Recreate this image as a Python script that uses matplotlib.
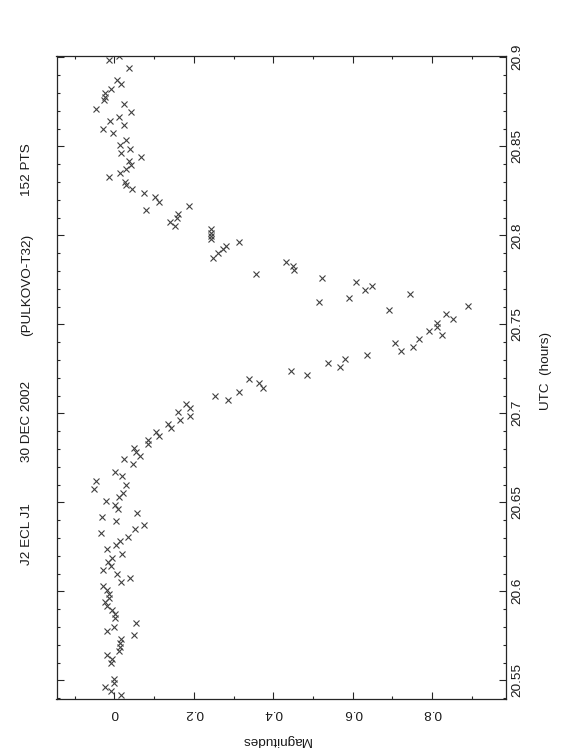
import matplotlib
matplotlib.use("Agg")
import matplotlib.pyplot as plt
from matplotlib.ticker import MultipleLocator, FixedLocator, FixedFormatter

plt.rcParams['font.family'] = ['Liberation Sans', 'DejaVu Sans']

# ---- data: UTC (hours) and magnitudes ----
utc = [20.9009, 20.8985, 20.8938, 20.8871, 20.8850, 20.8824, 20.8801, 20.8779, 20.8760, 20.8736,
       20.8711, 20.8691, 20.8666, 20.8644, 20.8621, 20.8599, 20.8576, 20.8534, 20.8507, 20.8485,
       20.8461, 20.8438, 20.8416, 20.8393, 20.8371, 20.8348, 20.8326, 20.8301, 20.8281, 20.8258,
       20.8236, 20.8213, 20.8189, 20.8166, 20.8144, 20.8121, 20.8099, 20.8076, 20.8054, 20.8034,
       20.8015, 20.7996, 20.7979, 20.7962, 20.7942, 20.7921, 20.7899, 20.7874,
       20.7850, 20.7826, 20.7805, 20.7783, 20.7760, 20.7738, 20.7713, 20.7691, 20.7669, 20.7646,
       20.7624, 20.7601, 20.7579, 20.7556, 20.7531, 20.7509, 20.7487, 20.7462, 20.7440, 20.7417,
       20.7395, 20.7372, 20.7348, 20.7326, 20.7303, 20.7281, 20.7258, 20.7236, 20.7213, 20.7191,
       20.7169, 20.7144, 20.7121, 20.7099, 20.7076,
       20.7054, 20.7031, 20.7007, 20.6985, 20.6962, 20.6940, 20.6917, 20.6895, 20.6872, 20.6850,
       20.6828, 20.6803, 20.6783, 20.6760, 20.6742,
       20.6714, 20.6669, 20.6646, 20.6621, 20.6599, 20.6576, 20.6554, 20.6531, 20.6507, 20.6485,
       20.6462, 20.6440, 20.6417, 20.6395, 20.6371, 20.6348, 20.6326, 20.6303, 20.6281, 20.6258,
       20.6236, 20.6211, 20.6189, 20.6166, 20.6144, 20.6121, 20.6099, 20.6075, 20.6052, 20.6028,
       20.6007, 20.5985, 20.5962, 20.5938, 20.5916, 20.5893, 20.5871, 20.5848, 20.5824, 20.5801,
       20.5779, 20.5756, 20.5734, 20.5711, 20.5689, 20.5666, 20.5642, 20.5620, 20.5597, 20.5506,
       20.5487, 20.5461, 20.5438, 20.5416]

mag = [0.012, -0.014, 0.037, 0.007, 0.017, -0.008, -0.023, -0.024, -0.027, 0.024,
       -0.046, 0.041, 0.012, -0.012, 0.023, -0.029, -0.003, 0.029, 0.015, 0.038,
       0.016, 0.068, 0.036, 0.042, 0.028, 0.013, -0.015, 0.026, 0.028, 0.044,
       0.075, 0.102, 0.112, 0.187, 0.080, 0.159, 0.158, 0.139, 0.153, 0.243,
       0.243, 0.243, 0.243, 0.313, 0.280, 0.273, 0.262, 0.248,
       0.431, 0.449, 0.451, 0.357, 0.523, 0.609, 0.649, 0.632, 0.744, 0.590,
       0.515, 0.891, 0.692, 0.835, 0.852, 0.813, 0.812, 0.792, 0.825, 0.766,
       0.707, 0.753, 0.722, 0.637, 0.581, 0.539, 0.569, 0.445, 0.486, 0.339,
       0.364, 0.373, 0.314, 0.254, 0.285,
       0.180, 0.190, 0.159, 0.191, 0.164, 0.134, 0.143, 0.104, 0.111, 0.085,
       0.084, 0.049, 0.055, 0.065, 0.024,
       0.047, 0.002, 0.020, -0.046, 0.029, -0.052, 0.022, 0.011, -0.022, 0.001,
       0.010, 0.058, -0.031, 0.004, 0.074, 0.051, -0.034, 0.035, 0.015, 0.004,
       -0.018, 0.020, -0.005, -0.016, -0.009, -0.030, 0.007, 0.039, 0.016, -0.028,
       -0.019, -0.015, -0.014, -0.024, -0.018, -0.006, 0.002, 0.002, 0.054, 0.000,
       -0.019, 0.049, 0.016, 0.015, 0.013, 0.012, -0.018, -0.005, -0.009, 0.000,
       -0.001, -0.023, -0.008, 0.017]

mag_ticks = [0, 0.2, 0.4, 0.6, 0.8]
mag_tick_labels = ['0', '0.2', '0.4', '0.6', '0.8']
utc_ticks = [20.55, 20.6, 20.65, 20.7, 20.75, 20.8, 20.85, 20.9]
utc_tick_labels = ['20.55', '20.6', '20.65', '20.7', '20.75', '20.8', '20.85', '20.9']
title_parts = ['J2 ECL J1', '30 DEC 2002', '(PULKOVO-T32)', '152 PTS']

FS = 9.7
ink = '0.15'

fig = plt.figure(figsize=(5.62, 7.56), dpi=100)
ax = fig.add_axes([56.5 / 562, 57 / 756, 449 / 562, 643.3 / 756])

ax.plot(mag, utc, linestyle='none', marker='x', ms=4.0, mew=0.8, color='0.25')

ax.set_xlim(-0.146, 0.985)
ax.set_ylim(20.5395, 20.9009)

for s in ax.spines.values():
    s.set_linewidth(0.9)
    s.set_color(ink)

ax.xaxis.set_major_locator(FixedLocator(mag_ticks))
ax.xaxis.set_major_formatter(FixedFormatter(mag_tick_labels))
ax.xaxis.set_minor_locator(MultipleLocator(0.1))
ax.yaxis.set_major_locator(FixedLocator(utc_ticks))
ax.yaxis.set_major_formatter(FixedFormatter(utc_tick_labels))
ax.yaxis.set_minor_locator(MultipleLocator(0.01))

ax.tick_params(axis='both', which='both', direction='in', top=True, bottom=True,
               left=True, right=True, color=ink, width=0.8)
ax.tick_params(axis='both', which='major', length=4.8)
ax.tick_params(axis='both', which='minor', length=2.4)
ax.tick_params(axis='x', which='major', labelbottom=True, labeltop=False,
               labelrotation=180, labelsize=FS, pad=6.0, labelcolor='0.1')
ax.tick_params(axis='y', which='major', labelleft=False, labelright=True,
               labelrotation=90, labelsize=FS, pad=4.0, labelcolor='0.1')
for lab in ax.get_yticklabels():
    lab.set_va('center')

ax.set_xlabel('Magnitudes', rotation=180, fontsize=FS, color='0.1', va='center', ha='center')
ax.xaxis.set_label_coords(0.488, -0.063)
ax.yaxis.set_label_position('right')
ax.set_ylabel('UTC  (hours)', rotation=90, fontsize=FS, color='0.1', va='center', ha='center')
ax.yaxis.set_label_coords(1.090, 0.51)

title_y = [534, 421, 285, 170]
for txt, yp in zip(title_parts, title_y):
    fig.text(27 / 562, 1 - yp / 756, txt, rotation=90, fontsize=FS, color='0.1',
             ha='center', va='center')

fig.savefig('out.png', dpi=100)
